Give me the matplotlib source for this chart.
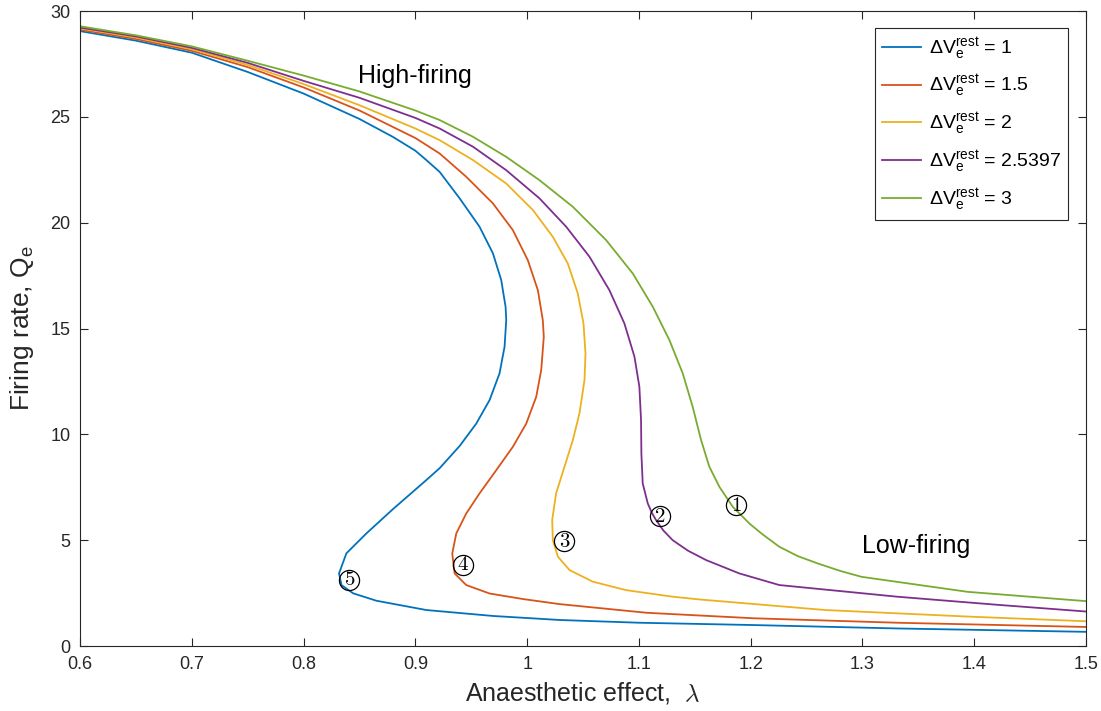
import numpy as np
import matplotlib.pyplot as plt

plt.rcParams['font.family'] = ['Liberation Sans', 'DejaVu Sans']
plt.rcParams['mathtext.fontset'] = 'custom'
plt.rcParams['mathtext.rm'] = 'Liberation Sans'
plt.rcParams['mathtext.it'] = 'Liberation Sans:italic'
plt.rcParams['mathtext.bf'] = 'Liberation Sans:bold'

# Steady-state firing rate Q_e against anaesthetic effect lambda,
# one branch per resting-potential shift
dv_rest = ['1', '1.5', '2', '2.5397', '3']
colors = ['#0072BD', '#D95319', '#EDB120', '#7E2F8E', '#77AC30']

lam_1 = [0.6, 0.65, 0.7, 0.75, 0.8, 0.85, 0.88, 0.9, 0.91, 0.9217, 0.9396, 0.9574,
         0.9694, 0.9768, 0.9807, 0.9813, 0.9798, 0.9753, 0.9664, 0.9545, 0.9396,
         0.9217, 0.9098, 0.88, 0.8562, 0.8383, 0.8317, 0.8339, 0.8443, 0.8651,
         0.9098, 0.9694, 1.029, 1.1, 1.2029, 1.3307, 1.5]
q_1 = [29.05, 28.6, 28.03, 27.12, 26.1, 24.9, 24.05, 23.4, 22.95, 22.4, 21.15, 19.81,
       18.55, 17.29, 16.03, 15.4, 14.14, 12.88, 11.62, 10.51, 9.45,
       8.4, 7.84, 6.47, 5.32, 4.38, 3.43, 2.88, 2.49, 2.14,
       1.70, 1.42, 1.23, 1.1, 0.99, 0.83, 0.67]

lam_15 = [0.6, 0.65, 0.7, 0.75, 0.8, 0.85, 0.9, 0.9217, 0.9455, 0.9694, 0.9872,
          1.0006, 1.0096, 1.014, 1.0149, 1.0126, 1.0081, 0.9992, 0.9872, 0.9724,
          0.9574, 0.9455, 0.9366, 0.933, 0.9351, 0.9455, 0.9664, 0.9962, 1.029,
          1.107, 1.2029, 1.3307, 1.5]
q_15 = [29.12, 28.68, 28.12, 27.35, 26.39, 25.3, 24.0, 23.27, 22.17, 20.91, 19.65,
        18.23, 16.81, 15.4, 14.61, 13.04, 11.77, 10.51, 9.41, 8.31,
        7.21, 6.26, 5.32, 4.37, 3.43, 2.88, 2.48, 2.22, 1.98,
        1.57, 1.31, 1.10, 0.90]

lam_2 = [0.6, 0.65, 0.7, 0.75, 0.8, 0.85, 0.9, 0.9217, 0.9515, 0.9813, 1.0051,
         1.023, 1.0364, 1.0453, 1.0504, 1.0522, 1.0513, 1.0468, 1.0409, 1.0334,
         1.0259, 1.0224, 1.023, 1.0275, 1.0379, 1.0587, 1.0885, 1.1302, 1.154,
         1.2668, 1.3946, 1.5]
q_2 = [29.18, 28.75, 28.2, 27.45, 26.55, 25.55, 24.45, 23.9, 22.96, 21.85, 20.6,
       19.33, 18.07, 16.66, 15.24, 13.82, 12.56, 10.99, 9.73, 8.47,
       7.21, 5.95, 5.0, 4.22, 3.59, 3.04, 2.64, 2.33, 2.20,
       1.70, 1.39, 1.17]

lam_25 = [0.6, 0.65, 0.7, 0.75, 0.8, 0.85, 0.9, 0.9217, 0.9515, 0.9813, 1.011,
          1.0349, 1.0558, 1.0736, 1.087, 1.096, 1.1004, 1.1019, 1.1022, 1.1034,
          1.1079, 1.1115, 1.1153, 1.122, 1.1302, 1.144, 1.1601, 1.1898, 1.2256,
          1.331, 1.42, 1.5]
q_25 = [29.22, 28.8, 28.26, 27.55, 26.7, 25.9, 24.95, 24.45, 23.59, 22.48, 21.15,
        19.81, 18.39, 16.81, 15.24, 13.67, 12.25, 10.67, 9.1, 7.68,
        6.74, 6.3, 5.95, 5.45, 5.0, 4.5, 4.06, 3.43, 2.88,
        2.33, 1.95, 1.63]

lam_3 = [0.6, 0.65, 0.7, 0.75, 0.8, 0.85, 0.9, 0.9217, 0.9515, 0.9813, 1.011,
         1.0409, 1.0706, 1.0945, 1.1124, 1.1273, 1.1392, 1.1481, 1.1556, 1.163,
         1.172, 1.1839, 1.1988, 1.21, 1.2256, 1.242, 1.26, 1.28, 1.299, 1.394, 1.5]
q_3 = [29.28, 28.85, 28.33, 27.65, 26.95, 26.2, 25.3, 24.85, 24.06, 23.11, 22.01,
       20.75, 19.18, 17.6, 16.03, 14.45, 12.88, 11.3, 9.73, 8.47,
       7.52, 6.58, 5.79, 5.3, 4.69, 4.25, 3.9, 3.55, 3.27, 2.56, 2.12]

curves = [(lam_1, q_1), (lam_15, q_15), (lam_2, q_2), (lam_25, q_25), (lam_3, q_3)]

# numbered points on the low-firing branches
mark_lam = [1.187, 1.119, 1.0334, 0.943, 0.841]
mark_q = [6.66, 6.14, 4.96, 3.83, 3.12]
mark_txt = ['1', '2', '3', '4', '5']

fig = plt.figure(figsize=(11.01, 7.11), dpi=100)
ax = fig.add_axes([0.0727, 0.0914, 0.9137, 0.8931])

for (lam, q), c, dv in zip(curves, colors, dv_rest):
    ax.plot(lam, q, color=c, lw=1.3,
            label=r'$\Delta\mathrm{V}_\mathrm{e}^\mathrm{rest}$ = ' + dv)

for lx, qy, t in zip(mark_lam, mark_q, mark_txt):
    ax.plot(lx, qy, 'o', ms=14.5, mfc='none', mec='black', mew=0.9)
    ax.text(lx, qy, r'$\mathbf{' + t + '}$', ha='center', va='center',
            fontsize=15, math_fontfamily='cm')

ax.text(0.9, 26.93, 'High-firing', ha='center', va='center', fontsize=18)
ax.text(1.348, 4.72, 'Low-firing', ha='center', va='center', fontsize=18)

ax.set_xlim(0.6, 1.5)
ax.set_ylim(0, 30)
ax.set_xticks(np.arange(0.6, 1.51, 0.1))
ax.set_xticklabels(['0.6', '0.7', '0.8', '0.9', '1', '1.1', '1.2', '1.3', '1.4', '1.5'])
ax.set_yticks(np.arange(0, 31, 5))

gray = '#262626'
for s in ax.spines.values():
    s.set_color(gray)
    s.set_linewidth(0.8)
ax.tick_params(direction='in', length=6, width=0.8, top=True, right=True,
               colors=gray, labelsize=13, labelcolor=gray, pad=7)

ax.set_xlabel(r'Anaesthetic effect,  $\lambda$', fontsize=18, color=gray, labelpad=5)
ax.xaxis.label.set_math_fontfamily('cm')
ax.set_ylabel(r'Firing rate, Q$_\mathrm{e}$', fontsize=19, color=gray, labelpad=10)

leg = ax.legend(loc='upper right', bbox_to_anchor=(0.982, 0.973), borderaxespad=0,
                fontsize=14, fancybox=False, framealpha=1, edgecolor=gray,
                handlelength=2.0, handletextpad=0.4, labelspacing=0.58,
                borderpad=0.35)
leg.get_frame().set_linewidth(0.8)

fig.savefig('out.png', dpi=100)
